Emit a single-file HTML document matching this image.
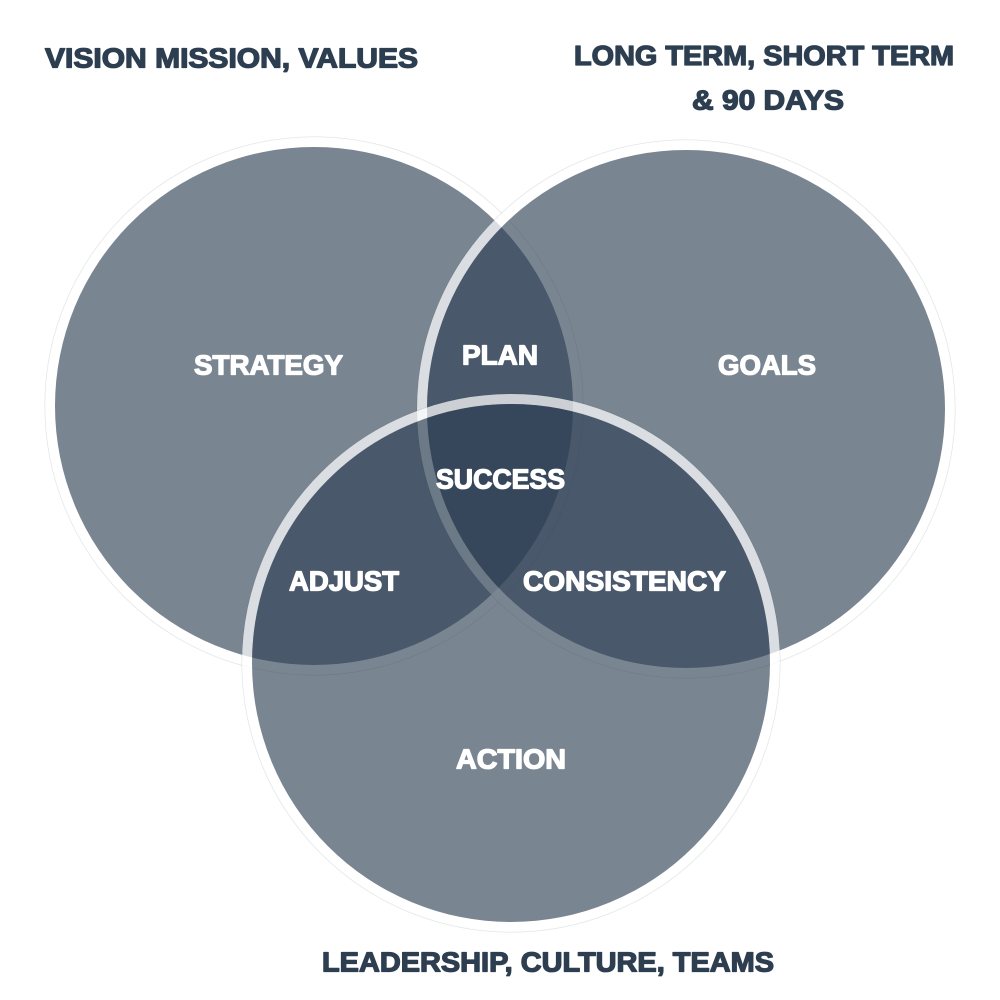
<!DOCTYPE html>
<html lang="en">
<head>
<meta charset="utf-8">
<title>Venn diagram</title>
<style>
html,body{margin:0;padding:0;background:#fff;width:1000px;height:1000px;overflow:hidden}
svg{display:block}
text{font-family:"Liberation Sans","DejaVu Sans",sans-serif;font-weight:700;font-size:27.5px;stroke-width:1.3px;stroke-linejoin:round}
.d{fill:#2c3e50;stroke:#2c3e50}
.w{fill:#fff;stroke:#fff}
</style>
</head>
<body>
<svg width="1000" height="1000" viewBox="0 0 1000 1000" xmlns="http://www.w3.org/2000/svg">
  <!-- left -->
  <circle cx="314" cy="406" r="269" fill="none" stroke="#2c4a40" stroke-opacity=".16" stroke-width="1"/>
  <circle cx="314" cy="406" r="264" fill="none" stroke="#fff" stroke-width="10" stroke-opacity=".72"/>
  <circle cx="314" cy="406" r="259" fill="#2c3e52" fill-opacity=".63"/>
  <!-- right -->
  <circle cx="686" cy="409" r="269" fill="none" stroke="#2c4a40" stroke-opacity=".16" stroke-width="1"/>
  <circle cx="686" cy="409" r="264" fill="none" stroke="#fff" stroke-width="10" stroke-opacity=".72"/>
  <circle cx="686" cy="409" r="259" fill="#2c3e52" fill-opacity=".63"/>
  <!-- bottom -->
  <circle cx="511" cy="663" r="269" fill="none" stroke="#2c4a40" stroke-opacity=".16" stroke-width="1"/>
  <circle cx="511" cy="663" r="264" fill="none" stroke="#fff" stroke-width="10" stroke-opacity=".72"/>
  <circle cx="511" cy="663" r="259" fill="#2c3e52" fill-opacity=".63"/>

  <text class="d" x="45" y="67.5" textLength="373" lengthAdjust="spacingAndGlyphs">VISION MISSION, VALUES</text>
  <text class="d" x="574" y="65" textLength="380" lengthAdjust="spacingAndGlyphs">LONG TERM, SHORT TERM</text>
  <text class="d" x="692" y="109.5" textLength="152" lengthAdjust="spacingAndGlyphs">&amp; 90 DAYS</text>
  <text class="d" x="322" y="971.5" textLength="452" lengthAdjust="spacingAndGlyphs">LEADERSHIP, CULTURE, TEAMS</text>

  <text class="w" x="194" y="374.5" textLength="149" lengthAdjust="spacingAndGlyphs">STRATEGY</text>
  <text class="w" x="718" y="374.5" textLength="98" lengthAdjust="spacingAndGlyphs">GOALS</text>
  <text class="w" x="462" y="364.5" textLength="76" lengthAdjust="spacingAndGlyphs">PLAN</text>
  <text class="w" x="436" y="488.5" textLength="129" lengthAdjust="spacingAndGlyphs">SUCCESS</text>
  <text class="w" x="289" y="590.5" textLength="110" lengthAdjust="spacingAndGlyphs">ADJUST</text>
  <text class="w" x="523" y="590.5" textLength="203" lengthAdjust="spacingAndGlyphs">CONSISTENCY</text>
  <text class="w" x="456" y="768.5" textLength="110" lengthAdjust="spacingAndGlyphs">ACTION</text>
</svg>
</body>
</html>
